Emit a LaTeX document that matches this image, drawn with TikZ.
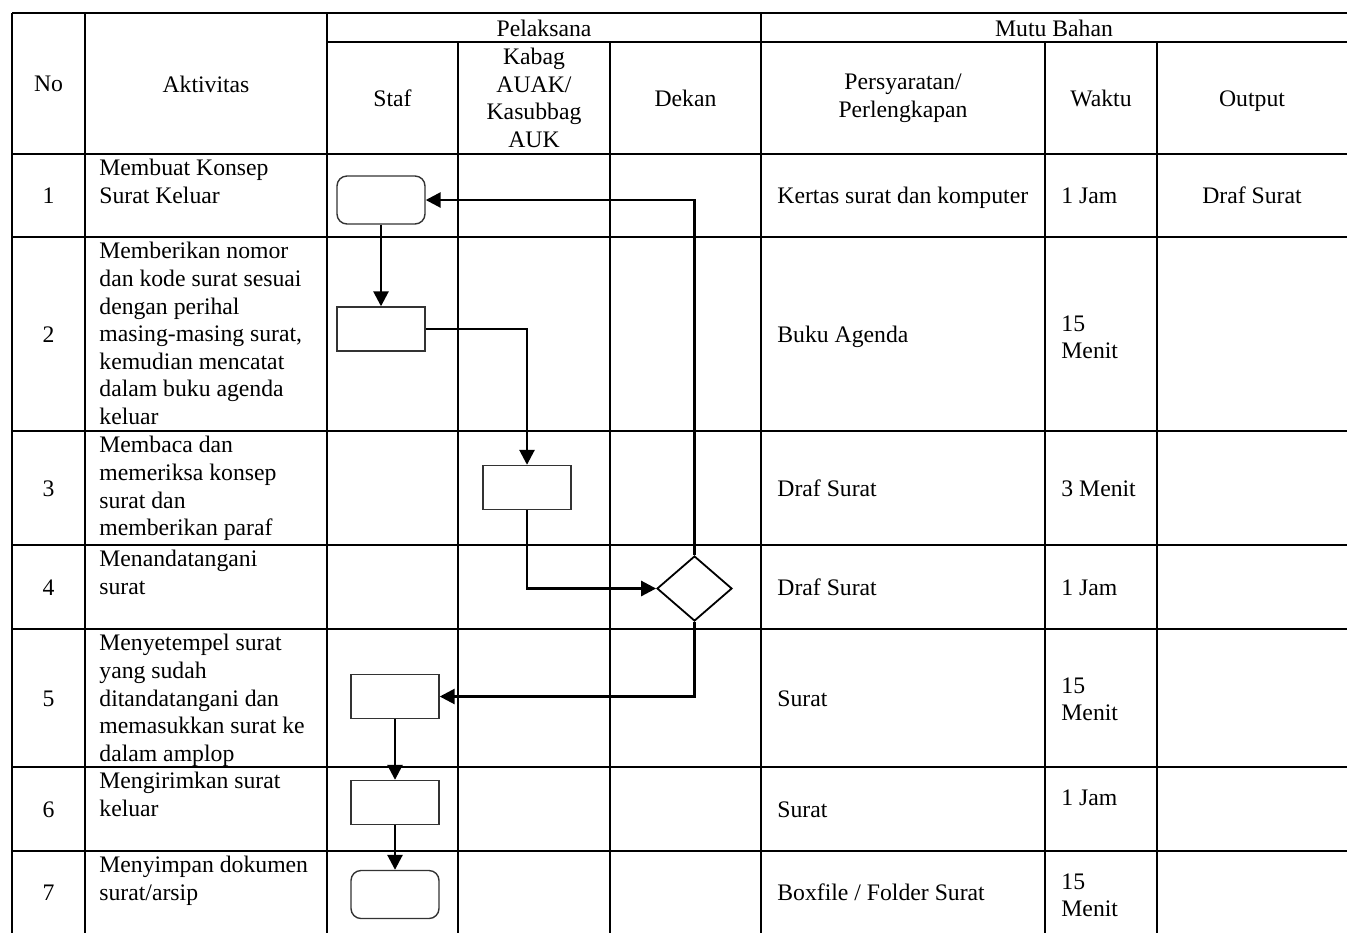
\documentclass[tikz,border=0pt]{standalone}
\usepackage{fontspec}
\setmainfont{Liberation Serif}
\usetikzlibrary{arrows.meta,shapes.geometric}

\begin{document}
\begin{tikzpicture}[x=0.5pt,y=-0.5pt,
  every node/.style={font=\fontsize{11.85}{13.8}\selectfont, inner sep=0pt},
  grid/.style={line width=1.3pt},
  act/.style={anchor=north west, align=left},
  lft/.style={anchor=base west},
  mid/.style={anchor=base},
  head/.style={align=center},
  proc/.style={draw=black!80, line width=0.7pt, minimum width=44pt, minimum height=22pt},
  term/.style={proc, rounded corners=5pt, minimum height=24pt},
  dec/.style={diamond, draw, line width=0.9pt, minimum width=37.5pt, minimum height=32.5pt},
  flow/.style={line width=1.35pt, -{Triangle[length=7.5pt,width=7.5pt]}}
]
\useasboundingbox (0,0) rectangle (1347,933);

% table rules
\draw[grid] (12,13) -- (1347,13);
\draw[grid] (327,42) -- (1347,42);
\foreach \y in {154,237,431,545,629,767,851}
  \draw[grid] (12,\y) -- (1347,\y);
\foreach \x in {12,85,327,761}
  \draw[grid] (\x,13) -- (\x,933);
\foreach \x in {458,610,1045,1157}
  \draw[grid] (\x,42) -- (\x,933);

% header
\node[head] (hno) at (48.5,84) {No};
\node[head] (hakt) at (206,84) {Aktivitas};
\node[mid] (hpel) at (544,36) {Pelaksana};
\node[mid] (hmutu) at (1054,36) {Mutu Bahan};
\node[head] (hstaf) at (392.5,98) {Staf};
\node[head] (hkabag) at (534,98) {Kabag\\AUAK/\\Kasubbag\\AUK};
\node[head] (hdekan) at (685.5,98) {Dekan};
\node[head] (hsyarat) at (903,98) {Persyaratan/\\Perlengkapan};
\node[head] (hwaktu) at (1101,98) {Waktu};
\node[mid] (hout) at (1252,106) {Output};

% row numbers
\node[mid] (n1) at (48.5,203) {1};
\node[mid] (n2) at (48.5,342) {2};
\node[mid] (n3) at (48.5,496) {3};
\node[mid] (n4) at (48.5,595) {4};
\node[mid] (n5) at (48.5,706) {5};
\node[mid] (n6) at (48.5,817) {6};
\node[mid] (n7) at (48.5,900) {7};

% activities (top edge of the first line)
\node[act] (a1) at (99,159) {Membuat Konsep\\Surat Keluar};
\node[act] (a2) at (99,242) {Memberikan nomor\\dan kode surat sesuai\\dengan perihal\\masing-masing surat,\\kemudian mencatat\\dalam buku agenda\\keluar};
\node[act] (a3) at (99,436) {Membaca dan\\memeriksa konsep\\surat dan\\memberikan paraf};
\node[act] (a4) at (99,550) {Menandatangani\\surat};
\node[act] (a5) at (99,634) {Menyetempel surat\\yang sudah\\ditandatangani dan\\memasukkan surat ke\\dalam amplop};
\node[act] (a6) at (99,772) {Mengirimkan surat\\keluar};
\node[act] (a7) at (99,856) {Menyimpan dokumen\\surat/arsip};

% requirements
\node[lft] (p1) at (777,203) {Kertas surat dan komputer};
\node[lft] (p2) at (777,342) {Buku Agenda};
\node[lft] (p3) at (777,496) {Draf Surat};
\node[lft] (p4) at (777,595) {Draf Surat};
\node[lft] (p5) at (777,706) {Surat};
\node[lft] (p6) at (777,817) {Surat};
\node[lft] (p7) at (777,900) {Boxfile / Folder Surat};

% time
\node[lft] (w1) at (1061,203) {1 Jam};
\node[act] (w2) at (1061,315) {15\\Menit};
\node[lft] (w3) at (1061,496) {3 Menit};
\node[lft] (w4) at (1061,595) {1 Jam};
\node[act] (w5) at (1061,677) {15\\Menit};
\node[lft] (w6) at (1061,805) {1 Jam};
\node[act] (w7) at (1061,873) {15\\Menit};

% output
\node[mid] (o1) at (1252,203) {Draf Surat};

% flow symbols
\node[term] (b1) at (381,200) {};
\node[proc] (b2) at (381,329) {};
\node[proc] (b3) at (527,487.5) {};
\node[dec]  (d4) at (694.5,588.5) {};
\node[proc] (b5) at (395,696.5) {};
\node[proc] (b6) at (395,802.5) {};
\node[term] (b7) at (395,894.5) {};

% connectors
\draw[flow] (b1) -- (b2);
\draw[flow] (b2.east) -| (b3.north);
\draw[flow] (b3.south) |- (d4.west);
\draw[flow] (d4.north) |- (b1.east);
\draw[flow] (d4.south) |- (b5.east);
\draw[flow] (b5) -- (b6);
\draw[flow] (b6) -- (b7);
\end{tikzpicture}
\end{document}
